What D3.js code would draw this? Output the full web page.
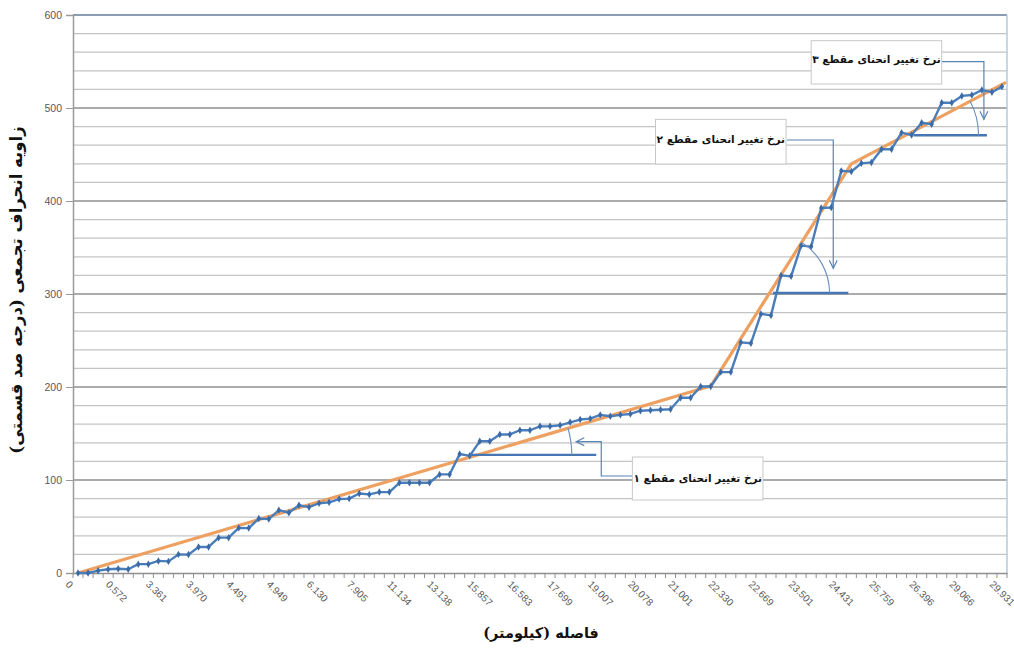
<!DOCTYPE html>
<html><head><meta charset="utf-8">
<script src="https://cdn.jsdelivr.net/npm/d3@7"></script>
<style>
html,body{margin:0;padding:0;background:#fff;}
svg{display:block;}
</style></head>
<body>
<svg id="chart" width="1014" height="649"></svg>
<script>
// ---------- data ----------
const tickLabels = ["0","0.572","3.361","3.970","4.491","4.949","6.130","7.905","11.134","13.138","15.857","16.583","17.699","19.007","20.078","21.001","22.330","22.669","23.501","24.431","25.759","26.396","29.066","29.931"];
const labelEvery = 4;
const cumulativeAngle = [0,0,2.5,4,4.5,4,9.5,9.5,13,12.5,20,19.8,28,28,38,38,48.5,48.3,58.5,58,67.6,64.8,72.8,70.8,75,76,79.5,80,85.5,84.5,87,87,97,97,97,97,106,106,128,126,141.6,141.6,149,149,153.5,153.5,157.7,157.7,158.8,162,165,166,170,168.5,170,171,174.5,175,175.5,176,188.5,188.5,200.6,200.6,216,216,248,247,278.6,277,320,319,352,351,392.4,393,432.4,431.7,440.5,441.5,455.6,455.6,473.5,471,484.2,482.5,505.7,505.7,513,514,519.3,517,523];
const categories = cumulativeAngle.map((d,i)=>i);
const trendIndex = [0,63,77,92.3];
const trendValue = [0,201,440,527];
const yTicks = [0,100,200,300,400,500,600];
const yMinor = d3.range(20,600,20);
const segLabels = ["نرخ تغییر انحنای مقطع ۱","نرخ تغییر انحنای مقطع ۲","نرخ تغییر انحنای مقطع ۳"];
const yTitle = "زاویه انحراف تجمعی (درجه صد قسمتی)";
const xTitle = "فاصله (کیلومتر)";
// annotation anchors in data space (index, value)
const refLevels = [127, 301, 470.7];
const refFrom = [39.0, 69.2, 83.2];
const refTo = [51.6, 76.7, 90.5];
const arcRadius = [94, 60, 73];
const boxes = [ // [idxLeft, idxRight, valTop, valBottom, textVal]
  [55.2,68.2,124.7,78.5,101.5],
  [57.5,70.5,487.8,439.8,466.0],
  [73.0,86.0,572.4,525.8,552.8]
];
const connectors = [
  [[55.2,104.3],[52.1,104.3],[52.1,141.2],[49.6,141.2]],
  [[70.6,465.6],[75.2,465.6],[75.2,327.6]],
  [[86.0,549.8],[90.2,549.8],[90.2,487.8]]
];

// ---------- layout ----------
const svg = d3.select("#chart");
const L=73, R=1007, T=15, B=573;
const x = d3.scaleBand().domain(categories).range([L,R]).paddingInner(0).paddingOuter(0);
const bw = x.bandwidth();
const xc = i => L + (i+0.5)*bw;
const y = d3.scaleLinear().domain([0,600]).range([B,T]);
const arFont = "DejaVu Serif, DejaVu Sans, serif";

// minor gridlines
svg.append("g").selectAll("line").data(yMinor.filter(v=>v%100!==0)).join("line")
  .attr("x1",L).attr("x2",R).attr("y1",d=>y(d)).attr("y2",d=>y(d))
  .attr("stroke","#c4c4c4").attr("stroke-width",1.2);
// major gridlines
svg.append("g").selectAll("line").data(yTicks.filter(v=>v>0 && v<600)).join("line")
  .attr("x1",L).attr("x2",R).attr("y1",d=>y(d)).attr("y2",d=>y(d))
  .attr("stroke","#8f8f8f").attr("stroke-width",1.5);
// top border
svg.append("line").attr("x1",L).attr("x2",R).attr("y1",y(600)).attr("y2",y(600))
  .attr("stroke","#8c9db3").attr("stroke-width",2);
// right border
svg.append("line").attr("x1",R).attr("x2",R).attr("y1",y(600)).attr("y2",y(0))
  .attr("stroke","#b4c8e0").attr("stroke-width",1.5);

// y axis
const yAxis = d3.axisLeft(y).tickValues(yTicks).tickSize(7).tickPadding(4).tickFormat(d3.format("d"));
const gy = svg.append("g").attr("transform",`translate(${L},0)`).call(yAxis);
gy.select(".domain").attr("stroke","#9a9a9a").attr("stroke-width",1.5);
gy.selectAll(".tick line").attr("stroke","#9a9a9a");
gy.selectAll(".tick text").attr("font-family","Liberation Sans, Arial, sans-serif").attr("font-size",10.5).attr("fill","#595959");

// x axis
const xAxis = d3.axisBottom(x).tickSize(0).tickFormat("");
const gx = svg.append("g").attr("transform",`translate(0,${B})`).call(xAxis);
gx.select(".domain").attr("stroke","#8f8f8f").attr("stroke-width",1.5);
gx.selectAll(".tick").remove();
// tick marks at category boundaries
svg.append("g").selectAll("line").data(d3.range(categories.length+1)).join("line")
  .attr("x1",d=>L+d*bw).attr("x2",d=>L+d*bw).attr("y1",B).attr("y2",B+5)
  .attr("stroke","#8f8f8f").attr("stroke-width",1);
// x labels
svg.append("g").selectAll("text").data(tickLabels).join("text")
  .attr("transform",(d,k)=>`translate(${xc(k*labelEvery)-13},${B+12}) rotate(45)`)
  .attr("text-anchor","start")
  .attr("font-family","Liberation Sans, Arial, sans-serif").attr("font-size",10).attr("fill","#595959")
  .text(d=>d);

// trend line (orange)
const trendPts = trendIndex.map((t,i)=>[xc(t),y(trendValue[i])]);
svg.append("path").attr("d",d3.line()(trendPts)).attr("fill","none")
  .attr("stroke","#eea060").attr("stroke-width",3.2).attr("stroke-linejoin","round").attr("stroke-linecap","round");

// data line
const line = d3.line().x((d,i)=>xc(i)).y(d=>y(d));
svg.append("path").attr("d",line(cumulativeAngle)).attr("fill","none")
  .attr("stroke","#4a7ebb").attr("stroke-width",2.4).attr("stroke-linejoin","round");
svg.append("g").selectAll("path").data(cumulativeAngle).join("path")
  .attr("d",d3.symbol(d3.symbolDiamond,16)())
  .attr("transform",(d,i)=>`translate(${xc(i)},${y(d)})`)
  .attr("fill","#3b6aa6");

// reference lines and arcs
function trendAt(v){
  for(let s=0;s<trendIndex.length-1;s++){
    if(v>=trendValue[s] && v<=trendValue[s+1]){
      const t=(v-trendValue[s])/(trendValue[s+1]-trendValue[s]);
      return {idx: trendIndex[s]+t*(trendIndex[s+1]-trendIndex[s]), seg:s};
    }
  }
}
refLevels.forEach((v,k)=>{
  svg.append("line").attr("x1",xc(refFrom[k])).attr("x2",xc(refTo[k]))
    .attr("y1",y(v)).attr("y2",y(v)).attr("stroke","#4676b4").attr("stroke-width",2.4);
  const ta = trendAt(v);
  const s = ta.seg;
  const dx = xc(trendIndex[s+1])-xc(trendIndex[s]);
  const dy = y(trendValue[s])-y(trendValue[s+1]);
  const th = Math.atan2(dy,dx);
  const cx = xc(ta.idx), cy = y(v), r = arcRadius[k];
  svg.append("path")
    .attr("d",`M${cx+r},${cy} A${r},${r} 0 0 0 ${cx+r*Math.cos(th)},${cy-r*Math.sin(th)}`)
    .attr("fill","none").attr("stroke","#6a8fbf").attr("stroke-width",1.1);
});

// connectors with open arrowheads
connectors.forEach(pts=>{
  const p = pts.map(d=>[xc(d[0]),y(d[1])]);
  svg.append("path").attr("d",d3.line()(p)).attr("fill","none")
    .attr("stroke","#5a84b4").attr("stroke-width",1.2);
  const a=p[p.length-2], b=p[p.length-1];
  const ang=Math.atan2(b[1]-a[1],b[0]-a[0]);
  const len=9, spread=0.45;
  const h1=[b[0]-len*Math.cos(ang-spread), b[1]-len*Math.sin(ang-spread)];
  const h2=[b[0]-len*Math.cos(ang+spread), b[1]-len*Math.sin(ang+spread)];
  svg.append("path").attr("d",d3.line()([h1,b,h2])).attr("fill","none")
    .attr("stroke","#5a84b4").attr("stroke-width",1.2);
});

// callout boxes
boxes.forEach((bx,k)=>{
  const x0=xc(bx[0]), x1=xc(bx[1]), y0=y(bx[2]), y1=y(bx[3]);
  svg.append("rect").attr("x",x0).attr("y",y0).attr("width",x1-x0).attr("height",y1-y0)
    .attr("fill","#fff").attr("stroke","#c8c8c8").attr("stroke-width",1);
  svg.append("text").attr("x",x1-1).attr("y",y(bx[4])).attr("dy","0.35em")
    .attr("text-anchor","start").attr("direction","rtl")
    .attr("font-family",arFont).attr("font-weight","bold").attr("font-size",10.5)
    .attr("fill","#111").text(segLabels[k]);
});

// axis titles
svg.append("text").attr("transform",`translate(22,${(T+B)/2-4}) rotate(-90)`)
  .attr("text-anchor","middle").attr("direction","rtl")
  .attr("font-family",arFont).attr("font-weight","bold").attr("font-size",16.5)
  .attr("fill","#111").text(yTitle);
svg.append("text").attr("x",541).attr("y",633).attr("dy","0.35em")
  .attr("text-anchor","middle").attr("direction","rtl")
  .attr("font-family",arFont).attr("font-weight","bold").attr("font-size",14.5)
  .attr("fill","#111").text(xTitle);
</script>
</body></html>
